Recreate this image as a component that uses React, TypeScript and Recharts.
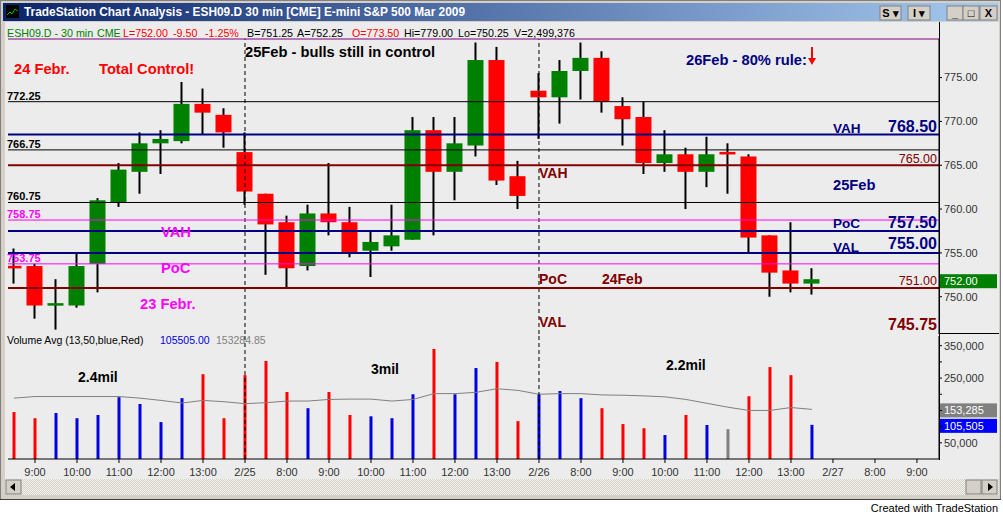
import React from 'react';
import { ComposedChart, Bar, Line, XAxis, YAxis, ReferenceLine, Cell } from 'recharts';

const FONT = '"Liberation Sans", Arial, sans-serif';

// ESH09 30 min bars, 24 Feb 8:30 .. 26 Feb 13:30 (index 0..38)
const barOpen = [
  753.5, 753.5, 749, 749, 753.75, 760.75, 764.25, 767.5, 767.75, 772, 770.75,
  766.5, 761.75, 758.5, 753.5, 759.5, 758.5, 755.25, 755.75, 756.5, 769, 764.25, 767.25, 777, 763.75,
  773.5, 772.75, 775.75, 777.25, 771.75, 770.5, 765.25, 766.25, 764.25, 766.5, 766, 757, 753, 751.5,
];
const barHigh = [
  755.5, 753.75, 752, 755, 761.25, 765.25, 768.75, 769, 774.5, 773.75, 771.5,
  768.75, 761.75, 759.25, 760.5, 765.25, 760.25, 757.5, 760.5, 770.5, 770.5, 770.5, 779, 778.5, 765.5,
  775.5, 777, 779, 778, 772.75, 772.25, 769, 767, 768.25, 767.5, 766.25, 757, 758.5, 753.25,
];
const barLow = [
  751.5, 747.5, 746.25, 748.75, 750.5, 760.25, 761.75, 764, 767.5, 768.5, 767,
  760.5, 752.5, 751, 753, 757, 754.5, 752.25, 755.25, 756.5, 757, 761, 766, 762.75, 760,
  768, 769.75, 772.5, 771, 767.25, 764, 764.25, 760, 762.5, 761.75, 755, 750, 750.5, 750.25,
];
const barClose = [
  753.25, 749, 749.25, 753.5, 761, 764.5, 767.5, 768, 772, 771, 768.75,
  762, 758.25, 753.25, 759.5, 758.5, 755, 756.25, 757, 769, 764.25, 767.5, 777, 763.25, 761.5,
  772.75, 775.75, 777.25, 772.25, 770.25, 765.25, 766.25, 764.25, 766.25, 766.25, 756.75, 752.75, 751.5, 752,
];
const PREV_CLOSE = 754;

const barVolume = [
  145000, 126000, 142000, 126000, 136000, 191000, 170000, 114000, 188000, 262000, 126000,
  259000, 303000, 207000, 157000, 207000, 136000, 132000, 126000, 200000, 340000, 200000, 281000, 300000, 117000,
  200000, 210000, 188000, 157000, 108000, 95000, 74000, 136000, 105000, 92000, 194000, 284000, 259000, 105505,
];
const volumeAvg = [
  188000, 193000, 193000, 193000, 193000, 193000, 188000, 181000, 173000, 181000, 177000,
  171000, 174000, 179000, 179000, 184000, 185000, 185000, 179000, 184000, 202000, 202000, 206000, 217000, 212000,
  200000, 202000, 202000, 198000, 197000, 195000, 192000, 184000, 172000, 160000, 150000, 150000, 159000, 153285,
];

const timeTicks = [1, 3, 5, 7, 9, 11, 13, 15, 17, 19, 21, 23, 25, 27, 29, 31, 33, 35, 37, 39, 41, 43];
const timeLabels = [
  '9:00', '10:00', '11:00', '12:00', '13:00', '2/25', '8:00', '9:00', '10:00', '11:00', '12:00',
  '13:00', '2/26', '8:00', '9:00', '10:00', '11:00', '12:00', '13:00', '2/27', '8:00', '9:00',
];
const dayBreaks = [11, 25];
const priceTicks = [750, 755, 760, 765, 770, 775];
const volumeTicks = [50000, 100000, 150000, 200000, 250000, 300000, 350000];
const volumeLabelled = [50000, 250000, 350000];

const LAST_PRICE = 752;
const LAST_VOL = 105505;
const LAST_AVG = 153285;

const X_DOMAIN: [number, number] = [-0.2857, 44.05];

const NAVY = '#000080';
const MAROON = '#800000';
const MAGENTA = '#FF00FF';

type Tag = { text: string; x: number; dy: number; size: number; bold: boolean; anchor?: 'start' | 'end' };
type Level = { price: number; color: string; width: number; tags: Tag[] };

const leftTag = (text: string): Tag => ({ text, x: 7, dy: -2, size: 11, bold: true });

const levels: Level[] = [
  { price: 779.4, color: '#800080', width: 1, tags: [] },
  { price: 772.25, color: '#000000', width: 1, tags: [leftTag('772.25')] },
  { price: 766.75, color: '#000000', width: 1, tags: [leftTag('766.75')] },
  { price: 760.75, color: '#000000', width: 1, tags: [leftTag('760.75')] },
  { price: 758.75, color: MAGENTA, width: 1, tags: [leftTag('758.75')] },
  { price: 753.75, color: MAGENTA, width: 1, tags: [leftTag('753.75')] },
  {
    price: 768.5, color: NAVY, width: 2, tags: [
      { text: 'VAH', x: 833, dy: -1.5, size: 13.5, bold: true },
      { text: '768.50', x: 937, dy: -3, size: 16, bold: true, anchor: 'end' },
    ],
  },
  {
    price: 757.5, color: NAVY, width: 2, tags: [
      { text: 'PoC', x: 833, dy: -2.5, size: 13.5, bold: true },
      { text: '757.50', x: 937, dy: -2.5, size: 16, bold: true, anchor: 'end' },
    ],
  },
  {
    price: 755, color: NAVY, width: 2, tags: [
      { text: 'VAL', x: 833, dy: -0.5, size: 13.5, bold: true },
      { text: '755.00', x: 937, dy: -3.5, size: 16, bold: true, anchor: 'end' },
    ],
  },
  { price: 765, color: MAROON, width: 2, tags: [{ text: '765.00', x: 937, dy: -2.7, size: 12.5, bold: false, anchor: 'end' }] },
  { price: 751, color: MAROON, width: 2, tags: [{ text: '751.00', x: 937, dy: -3.3, size: 12.5, bold: false, anchor: 'end' }] },
  { price: 745.75, color: 'none', width: 2, tags: [{ text: '745.75', x: 937, dy: -4, size: 16, bold: true, anchor: 'end' }] },
];

const notes = [
  { x: 14, y: 74, text: '24 Febr.', color: '#FF0000', size: 14.7 },
  { x: 99, y: 74, text: 'Total Control!', color: '#FF0000', size: 14.7 },
  { x: 245, y: 57, text: '25Feb - bulls still in control', color: '#000000', size: 14.7 },
  { x: 686, y: 65, text: '26Feb - 80% rule:', color: NAVY, size: 14.7 },
  { x: 161, y: 237, text: 'VAH', color: MAGENTA, size: 14.7 },
  { x: 161, y: 273, text: 'PoC', color: MAGENTA, size: 14.7 },
  { x: 140, y: 309, text: '23 Febr.', color: MAGENTA, size: 14.7 },
  { x: 539, y: 178, text: 'VAH', color: MAROON, size: 14 },
  { x: 539, y: 284, text: 'PoC', color: MAROON, size: 14 },
  { x: 602, y: 284, text: '24Feb', color: MAROON, size: 14 },
  { x: 539, y: 327, text: 'VAL', color: MAROON, size: 14 },
  { x: 833, y: 190, text: '25Feb', color: NAVY, size: 14.7 },
  { x: 78, y: 382, text: '2.4mil', color: '#000000', size: 14 },
  { x: 371, y: 374, text: '3mil', color: '#000000', size: 14 },
  { x: 666, y: 370, text: '2.2mil', color: '#000000', size: 14 },
];

// quote line across the top of the chart window
const quoteLine = [
  { x: 7, text: 'ESH09.D - 30 min', color: '#008000' },
  { x: 97, text: 'CME', color: '#008000' },
  { x: 123, text: 'L=752.00', color: '#FF0000' },
  { x: 173, text: '-9.50', color: '#FF0000' },
  { x: 205, text: '-1.25%', color: '#FF0000' },
  { x: 247, text: 'B=751.25', color: '#000' },
  { x: 297, text: 'A=752.25', color: '#000' },
  { x: 352, text: 'O=773.50', color: '#FF0000' },
  { x: 404, text: 'Hi=779.00', color: '#000' },
  { x: 458, text: 'Lo=750.25', color: '#000' },
  { x: 514, text: 'V=2,499,376', color: '#000' },
];

const rows = barOpen.map((o, k) => ({
  k,
  o,
  h: barHigh[k],
  l: barLow[k],
  c: barClose[k],
  vol: barVolume[k],
  avg: volumeAvg[k],
}));

const volColor = (k: number) => {
  const prev = k === 0 ? PREV_CLOSE : barClose[k - 1];
  if (barClose[k] > prev) return '#0000E0';
  if (barClose[k] < prev) return '#FF0000';
  return '#808080';
};

const tickStyle = { fontSize: 11, fill: '#333', fontFamily: FONT };

const Candle = (props: any) => {
  const { x, y, width, height, payload } = props;
  if (!payload || height == null) return null;
  const { o, h, l, c } = payload;
  const top = Math.min(y, y + height);
  const span = Math.abs(height);
  const per = span / (h - l);
  const cx = x + width / 2;
  const yO = top + (h - o) * per;
  const yC = top + (h - c) * per;
  const bodyH = Math.max(Math.abs(yO - yC), 2.5);
  const bodyTop = (yO + yC) / 2 - bodyH / 2;
  return (
    <g>
      <line x1={cx} x2={cx} y1={top} y2={top + span} stroke="#000" strokeWidth={2} />
      <rect x={cx - 8} y={bodyTop} width={16} height={bodyH} fill={c >= o ? '#008000' : '#FF0000'} />
    </g>
  );
};

const levelLabel = (lv: Level) => (p: any) => {
  const vy = p.viewBox?.y ?? 0;
  return (
    <g>
      {lv.tags.map((t) => (
        <text
          key={t.text}
          x={t.x}
          y={vy + t.dy}
          fill={lv.color === 'none' ? MAROON : lv.color}
          fontSize={t.size}
          fontWeight={t.bold ? 700 : 400}
          fontFamily={FONT}
          textAnchor={t.anchor ?? 'start'}
        >
          {t.text}
        </text>
      ))}
    </g>
  );
};

const axisBox = (text: string, fill: string, shift: number) => (p: any) => {
  const vb = p.viewBox ?? { x: 0, y: 0, width: 0 };
  const x0 = vb.x + vb.width + 1;
  return (
    <g>
      <rect x={x0} y={vb.y - 7 + shift} width={57} height={14} fill={fill} />
      <text x={x0 + 4} y={vb.y + 4 + shift} fill="#fff" fontSize={11} fontFamily={FONT}>{text}</text>
    </g>
  );
};

const Chrome = () => (
  <svg width={1003} height={515} style={{ position: 'absolute', left: 0, top: 0 }}>
    <defs>
      <linearGradient id="title" x1="0" x2="1" y1="0" y2="0">
        <stop offset="0" stopColor="#0A246A" />
        <stop offset="1" stopColor="#A6CAF0" />
      </linearGradient>
      <pattern id="hatch" width="2" height="2" patternUnits="userSpaceOnUse">
        <rect width="2" height="2" fill="#D4D0C8" />
        <rect width="1" height="1" fill="#F4F3EE" />
        <rect x="1" y="1" width="1" height="1" fill="#F4F3EE" />
      </pattern>
    </defs>
    <rect x={0} y={0} width={1003} height={515} fill="#fff" />
    <rect x={0.5} y={0.5} width={1000} height={499} fill="#D4D0C8" stroke="#808080" />
    <rect x={3} y={3} width={995} height={18} fill="url(#title)" />
    <rect x={6} y={5} width={13} height={13} fill="#000" />
    <polyline points="7,15 10,12 12,14 15,9 18,11" fill="none" stroke="#00C000" strokeWidth={1} />
    <text x={24} y={16} fill="#fff" fontSize={12} fontWeight={700} fontFamily={FONT} textLength={441} lengthAdjust="spacingAndGlyphs">
      TradeStation Chart Analysis - ESH09.D  30 min  [CME] E-mini S&amp;P 500 Mar 2009
    </text>
    {[
      { x: 880, w: 21, t: 'S ▾' },
      { x: 908, w: 22, t: 'I ▾' },
      { x: 947, w: 16, t: '_' },
      { x: 963, w: 16, t: '□' },
      { x: 980, w: 17, t: 'X' },
    ].map((b) => (
      <g key={b.x}>
        <rect x={b.x} y={6} width={b.w} height={14} fill="#D4D0C8" stroke="#808080" />
        <text x={b.x + b.w / 2} y={17} textAnchor="middle" fontSize={11} fontWeight={700} fontFamily={FONT} fill="#000">{b.t}</text>
      </g>
    ))}
    <rect x={5} y={22} width={994} height={457} fill="#ECECEC" />
    <line x1={939.5} x2={939.5} y1={22} y2={460} stroke="#000" />
    <line x1={940} x2={999} y1={333.5} y2={333.5} stroke="#000" />
    {quoteLine.map((q) => (
      <text key={q.x} x={q.x} y={37} fill={q.color} fontSize={10.7} fontFamily={FONT}>{q.text}</text>
    ))}
    <text y={344} fontSize={10.5} fontFamily={FONT}>
      <tspan x={7} fill="#000">Volume Avg (13,50,blue,Red)</tspan>
      <tspan x={160} fill="#0000E0">105505.00</tspan>
      <tspan x={216} fill="#808080">153284.85</tspan>
    </text>
    <rect x={5} y={479} width={994} height={16} fill="url(#hatch)" />
    <rect x={6} y={480} width={15} height={14} fill="#D4D0C8" stroke="#808080" />
    <path d="M10,487 L15,483 L15,491 Z" fill="#000" />
    <rect x={966} y={480} width={15} height={14} fill="#D4D0C8" stroke="#808080" />
    <rect x={982} y={480} width={15} height={14} fill="#D4D0C8" stroke="#808080" />
    <path d="M993,487 L988,483 L988,491 Z" fill="#000" />
    <line x1={0} x2={1001} y1={499.5} y2={499.5} stroke="#404040" />
    <text x={998} y={512} textAnchor="end" fontSize={11} fontFamily={FONT} fill="#000">Created with TradeStation</text>
  </svg>
);

const Notes = () => (
  <svg width={1003} height={515} style={{ position: 'absolute', left: 0, top: 0, pointerEvents: 'none' }}>
    {notes.map((n) => (
      <text key={n.text + n.x} x={n.x} y={n.y} fill={n.color} fontSize={n.size} fontWeight={700} fontFamily={FONT}>
        {n.text}
      </text>
    ))}
    <line x1={812} x2={812} y1={47} y2={60} stroke="#FF0000" strokeWidth={2} />
    <path d="M808,58 L816,58 L812,65 Z" fill="#FF0000" />
  </svg>
);

export default function App() {
  return (
    <div style={{ position: 'absolute', left: 0, top: 0, width: 1003, height: 515, overflow: 'hidden', fontFamily: FONT }}>
      <Chrome />
      <div style={{ position: 'absolute', left: 0, top: 30 }}>
        <ComposedChart width={1003} height={305} data={rows} margin={{ top: 9, right: 4, bottom: 1, left: 8 }}>
          <XAxis type="number" dataKey="k" domain={X_DOMAIN} allowDataOverflow hide />
          <YAxis
            orientation="right"
            width={60}
            domain={[745.75, 779.4]}
            allowDataOverflow
            ticks={priceTicks}
            tickFormatter={(v: number) => v.toFixed(2)}
            tick={tickStyle}
            tickSize={3}
            tickMargin={2}
            axisLine={{ stroke: '#000' }}
            tickLine={{ stroke: '#000' }}
          />
          <Bar dataKey={(d: any) => [d.l, d.h]} barSize={16} shape={(p: any) => <Candle {...p} />} isAnimationActive={false} />
          {dayBreaks.map((k) => (
            <ReferenceLine key={k} x={k} stroke="#000" strokeDasharray="4 3" />
          ))}
          {levels.map((lv) => (
            <ReferenceLine
              key={lv.price}
              y={lv.price}
              stroke={lv.color}
              strokeWidth={lv.width}
              label={{ content: levelLabel(lv) }}
            />
          ))}
          <ReferenceLine y={LAST_PRICE} stroke="none" label={{ content: axisBox(LAST_PRICE.toFixed(2), '#008000', 2) }} />
        </ComposedChart>
      </div>
      <div style={{ position: 'absolute', left: 0, top: 330 }}>
        <ComposedChart width={1003} height={150} data={rows} margin={{ top: 6, right: 4, bottom: 0, left: 8 }}>
          <XAxis
            type="number"
            dataKey="k"
            domain={X_DOMAIN}
            allowDataOverflow
            ticks={timeTicks}
            interval={0}
            tickFormatter={(v: number) => timeLabels[timeTicks.indexOf(v)] ?? ''}
            tick={tickStyle}
            tickSize={4}
            tickMargin={5}
            height={21}
            axisLine={{ stroke: '#000' }}
            tickLine={{ stroke: '#000' }}
          />
          <YAxis
            orientation="right"
            width={60}
            domain={[0, 380000]}
            allowDataOverflow
            ticks={volumeTicks}
            interval={0}
            tickFormatter={(v: number) => (volumeLabelled.includes(v) ? v.toLocaleString('en-US') : '')}
            tick={tickStyle}
            tickSize={3}
            tickMargin={2}
            axisLine={{ stroke: '#000' }}
            tickLine={{ stroke: '#000' }}
          />
          <Bar dataKey="vol" barSize={3} isAnimationActive={false}>
            {rows.map((r) => (
              <Cell key={r.k} fill={volColor(r.k)} />
            ))}
          </Bar>
          <Line dataKey="avg" type="linear" stroke="#808080" strokeWidth={1} dot={false} isAnimationActive={false} />
          {dayBreaks.map((k) => (
            <ReferenceLine key={k} x={k} stroke="#000" strokeDasharray="4 3" />
          ))}
          <ReferenceLine y={LAST_AVG} stroke="none" label={{ content: axisBox(LAST_AVG.toLocaleString('en-US'), '#808080', 1) }} />
          <ReferenceLine y={LAST_VOL} stroke="none" label={{ content: axisBox(LAST_VOL.toLocaleString('en-US'), '#0000FF', 1) }} />
        </ComposedChart>
      </div>
      <Notes />
    </div>
  );
}
